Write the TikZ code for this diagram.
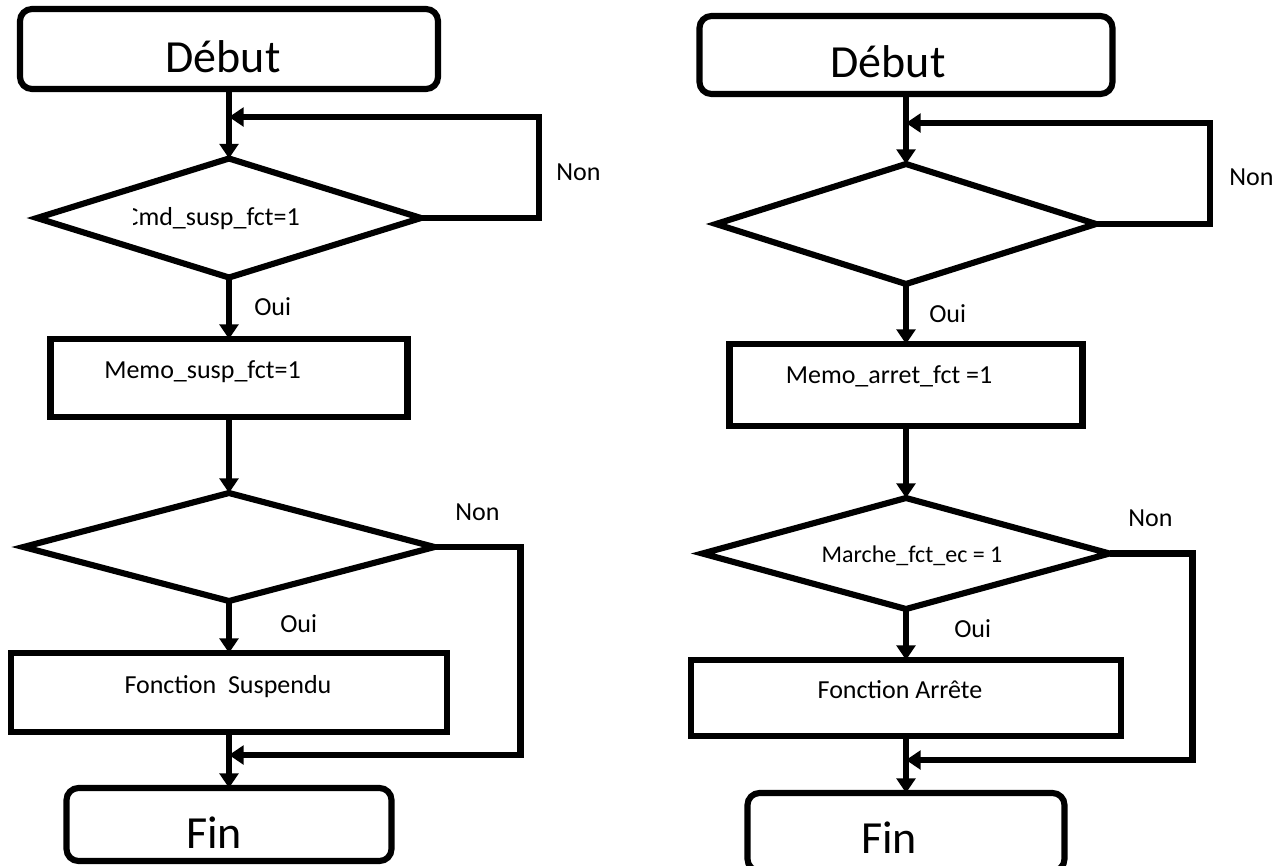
\documentclass[tikz,border=0pt]{standalone}
\usepackage{fontspec}
\setmainfont{Carlito}
\usetikzlibrary{shapes.geometric,arrows.meta}
\def\p{0.75pt}
\begin{document}
\begin{tikzpicture}[x=0.75pt,y=-0.75pt,
  shp/.style={draw=black, line width=4.6pt, inner sep=0pt, outer sep=0pt},
  procbox/.style={shp, rectangle},
  termbox/.style={shp, rectangle, rounded corners=9pt},
  decbox/.style={shp, diamond},
  arr/.style={line width=4.6pt, -{Triangle[length=11pt,width=14pt]}},
  big/.style={font=\fontsize{34.5}{40}\selectfont, inner sep=0pt},
  small/.style={font=\fontsize{19.5}{23}\selectfont, inner sep=0pt},
  smaller/.style={font=\fontsize{18}{22}\selectfont, inner sep=0pt}]
\clip (0,0) rectangle (1288,865);
\fill[white] (0,0) rectangle (1288,865);

% ---------- left flowchart ----------
\node[termbox, minimum width=418*\p, minimum height=80*\p] (debL) at (229,49) {};
\node[big, anchor=base] (tdebL) at (223,72) {Début};
\node[decbox, minimum width=384*\p, minimum height=119*\p] (dL1) at (229,218) {};
\begin{scope}
  \clip (133,195) rectangle (330,245);
  \node[small, anchor=base east] (tdL1) at (300,225) {Cmd\_susp\_fct=1};
\end{scope}
\node[procbox, minimum width=357*\p, minimum height=78*\p] (memoL) at (229,378) {};
\node[small, anchor=base] (tmemoL) at (202.5,378) {Memo\_susp\_fct=1};
\node[decbox, minimum width=411*\p, minimum height=108*\p] (dL2) at (229,547) {};
\node[procbox, minimum width=436*\p, minimum height=79*\p] (fsL) at (229,692.5) {};
\node[small, anchor=base] (tfsL) at (228,693) {Fonction\ \ Suspendu};
\node[termbox, minimum width=325*\p, minimum height=73*\p] (finL) at (229,824.5) {};
\node[big, anchor=base] (tfinL) at (214,848) {Fin};

\coordinate (jL1) at (229,117);
\coordinate (jL2) at (229,755);
\draw[arr] (debL.south) -- (dL1.north);
\draw[arr] (dL1.south) -- (memoL.north);
\draw[arr] (memoL.south) -- (dL2.north);
\draw[arr] (dL2.south) -- (fsL.north);
\draw[arr] (fsL.south) -- (finL.north);
\draw[arr] (dL1.east) -- ++(118,0) |- (jL1);
\draw[arr] (dL2.east) -- ++(86,0) |- (jL2);

\node[small, anchor=base west] (nonL1) at (556,180) {Non};
\node[small, anchor=base west] (nonL2) at (455,520) {Non};
\node[small, anchor=base west] (ouiL1) at (254,315) {Oui};
\node[small, anchor=base west] (ouiL2) at (280,632) {Oui};

% ---------- right flowchart ----------
\node[termbox, minimum width=413*\p, minimum height=78*\p] (debR) at (906,55) {};
\node[big, anchor=base] (tdebR) at (888,77) {Début};
\node[decbox, minimum width=380*\p, minimum height=120*\p] (dR1) at (906,224) {};
\node[procbox, minimum width=353*\p, minimum height=82*\p] (memoR) at (906,385) {};
\node[small, anchor=base] (tmemoR) at (889,383) {Memo\_arret\_fct =1};
\node[decbox, minimum width=407*\p, minimum height=111*\p] (dR2) at (906,553.5) {};
\node[smaller, anchor=base] (tdR2) at (912,562) {Marche\_fct\_ec = 1};
\node[procbox, minimum width=430*\p, minimum height=76*\p] (faR) at (906,698) {};
\node[small, anchor=base] (tfaR) at (900,698) {Fonction Arrête};
\node[termbox, minimum width=317*\p, minimum height=78*\p] (finR) at (906,832) {};
\node[big, anchor=base] (tfinR) at (889,853) {Fin};

\coordinate (jR1) at (906,123);
\coordinate (jR2) at (906,760);
\draw[arr] (debR.south) -- (dR1.north);
\draw[arr] (dR1.south) -- (memoR.north);
\draw[arr] (memoR.south) -- (dR2.north);
\draw[arr] (dR2.south) -- (faR.north);
\draw[arr] (faR.south) -- (finR.north);
\draw[arr] (dR1.east) -- ++(114,0) |- (jR1);
\draw[arr] (dR2.east) -- ++(83,0) |- (jR2);

\node[small, anchor=base west] (nonR1) at (1229,185) {Non};
\node[small, anchor=base west] (nonR2) at (1128,526) {Non};
\node[small, anchor=base west] (ouiR1) at (929,322) {Oui};
\node[small, anchor=base west] (ouiR2) at (954,637) {Oui};
\end{tikzpicture}
\end{document}
